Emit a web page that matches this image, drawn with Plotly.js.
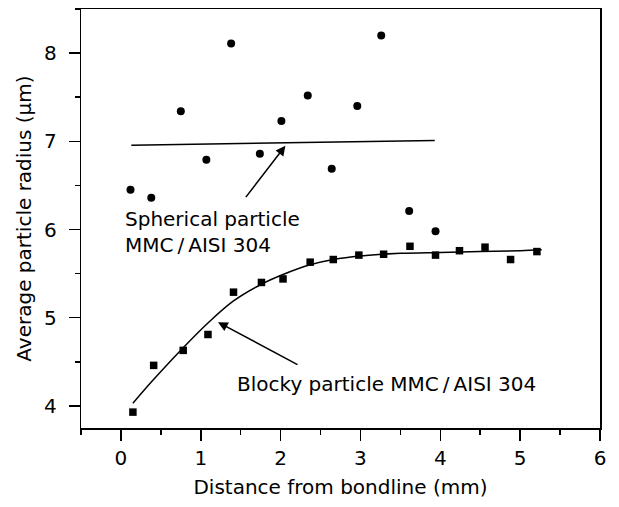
<!DOCTYPE html>
<html>
<head>
<meta charset="utf-8">
<script src="https://cdn.plot.ly/plotly-3.0.1.min.js"></script>
<style>
  html, body { margin: 0; padding: 0; background: #fff; }
  #chart { width: 619px; height: 507px; }
</style>
</head>
<body>
<div id="chart"></div>
<script>
// Spherical particle data (circles)
var sphericalX = [0.12, 0.38, 0.75, 1.07, 1.38, 1.74, 2.01, 2.34, 2.64, 2.96, 3.26, 3.61, 3.94];
var sphericalY = [6.45, 6.36, 7.34, 6.79, 8.11, 6.86, 7.23, 7.52, 6.69, 7.40, 8.20, 6.21, 5.98];
// Spherical fit line
var sphericalFitX = [0.13, 3.93];
var sphericalFitY = [6.955, 7.01];

// Blocky particle data (squares)
var blockyX = [0.15, 0.41, 0.78, 1.09, 1.41, 1.76, 2.03, 2.37, 2.66, 2.98, 3.29, 3.62, 3.94, 4.24, 4.56, 4.88, 5.21];
var blockyY = [3.93, 4.46, 4.63, 4.81, 5.29, 5.40, 5.44, 5.63, 5.66, 5.71, 5.72, 5.81, 5.71, 5.76, 5.80, 5.66, 5.75];
// Blocky fit curve
var blockyFitX = [0.15, 0.40, 0.78, 1.09, 1.41, 1.76, 2.03, 2.37, 2.66, 3.00, 3.50, 4.00, 4.50, 5.00, 5.27];
var blockyFitY = [4.03, 4.29, 4.66, 4.94, 5.19, 5.38, 5.49, 5.60, 5.66, 5.70, 5.73, 5.74, 5.75, 5.76, 5.77];

var xTickVals = [0, 1, 2, 3, 4, 5, 6];
var yTickVals = [4, 5, 6, 7, 8];

var labelSpherical = 'Spherical particle<br>MMC\u2009/\u2009AISI 304';
var labelBlocky = 'Blocky particle MMC\u2009/\u2009AISI 304';
var xTitle = 'Distance from bondline (mm)';
var yTitle = 'Average particle radius (\u00b5m)';

var FONT = 'DejaVu Sans, sans-serif';

var traces = [
  { x: sphericalX, y: sphericalY, mode: 'markers', type: 'scatter',
    marker: { symbol: 'circle', size: 8, color: '#000' } },
  { x: sphericalFitX, y: sphericalFitY, mode: 'lines', type: 'scatter',
    line: { color: '#000', width: 1.5 } },
  { x: blockyX, y: blockyY, mode: 'markers', type: 'scatter',
    marker: { symbol: 'square', size: 7.5, color: '#000' } },
  { x: blockyFitX, y: blockyFitY, mode: 'lines', type: 'scatter',
    line: { color: '#000', width: 1.5, shape: 'spline', smoothing: 1 } }
];

var axisCommon = {
  showgrid: false, zeroline: false,
  showline: true, linecolor: '#000', linewidth: 1.5, mirror: true,
  ticks: 'outside', ticklen: 11, tickwidth: 1.5, tickcolor: '#000',
  tickfont: { family: FONT, size: 20, color: '#000' }
};

// y tick labels placed as text at the y-axis tick values, just left of the ticks
var yTickLabelAnnotations = yTickVals.map(function (v) {
  return { xref: 'paper', yref: 'y', x: -0.0425, y: v, text: String(v), showarrow: false,
           xanchor: 'right', yanchor: 'middle', font: { family: FONT, size: 20, color: '#000' } };
});

var layout = {
  width: 619, height: 507,
  margin: { l: 81, r: 19, t: 9, b: 79, pad: 0 },
  paper_bgcolor: '#fff', plot_bgcolor: '#fff',
  showlegend: false,
  font: { family: FONT, size: 20, color: '#000' },
  xaxis: Object.assign({}, axisCommon, {
    range: [-0.5, 6], tickvals: xTickVals, ticktext: xTickVals.map(String),
    minor: { dtick: 0.5, tick0: 0, ticks: 'outside', ticklen: 5, tickwidth: 1.5, tickcolor: '#000' },
    title: { text: xTitle, font: { family: FONT, size: 20, color: '#000' }, standoff: 11 }
  }),
  yaxis: Object.assign({}, axisCommon, {
    range: [3.75, 8.5], tickvals: yTickVals, showticklabels: false,
    minor: { dtick: 0.5, tick0: 0, ticks: 'outside', ticklen: 5, tickwidth: 1.5, tickcolor: '#000' },
    title: { text: yTitle, font: { family: FONT, size: 20, color: '#000' }, standoff: 31 }
  }),
  annotations: yTickLabelAnnotations.concat([
    { xref: 'x', yref: 'y', x: 0.02, y: 5.97, text: labelSpherical, showarrow: false,
      xanchor: 'left', yanchor: 'middle', align: 'left',
      font: { family: FONT, size: 20, color: '#000' } },
    { xref: 'x', yref: 'y', x: 1.43, y: 4.245, text: labelBlocky, showarrow: false,
      xanchor: 'left', yanchor: 'middle', align: 'left',
      font: { family: FONT, size: 20, color: '#000' } },
    { xref: 'x', yref: 'y', x: 2.06, y: 6.95, axref: 'x', ayref: 'y', ax: 1.55, ay: 6.35,
      text: '', showarrow: true, arrowhead: 2, arrowsize: 1.3, arrowwidth: 1.5, arrowcolor: '#000' },
    { xref: 'x', yref: 'y', x: 1.216, y: 4.95, axref: 'x', ayref: 'y', ax: 2.23, ay: 4.46,
      text: '', showarrow: true, arrowhead: 2, arrowsize: 1.3, arrowwidth: 1.5, arrowcolor: '#000' }
  ])
};

Plotly.newPlot('chart', traces, layout, { staticPlot: true, displayModeBar: false });
</script>
</body>
</html>
